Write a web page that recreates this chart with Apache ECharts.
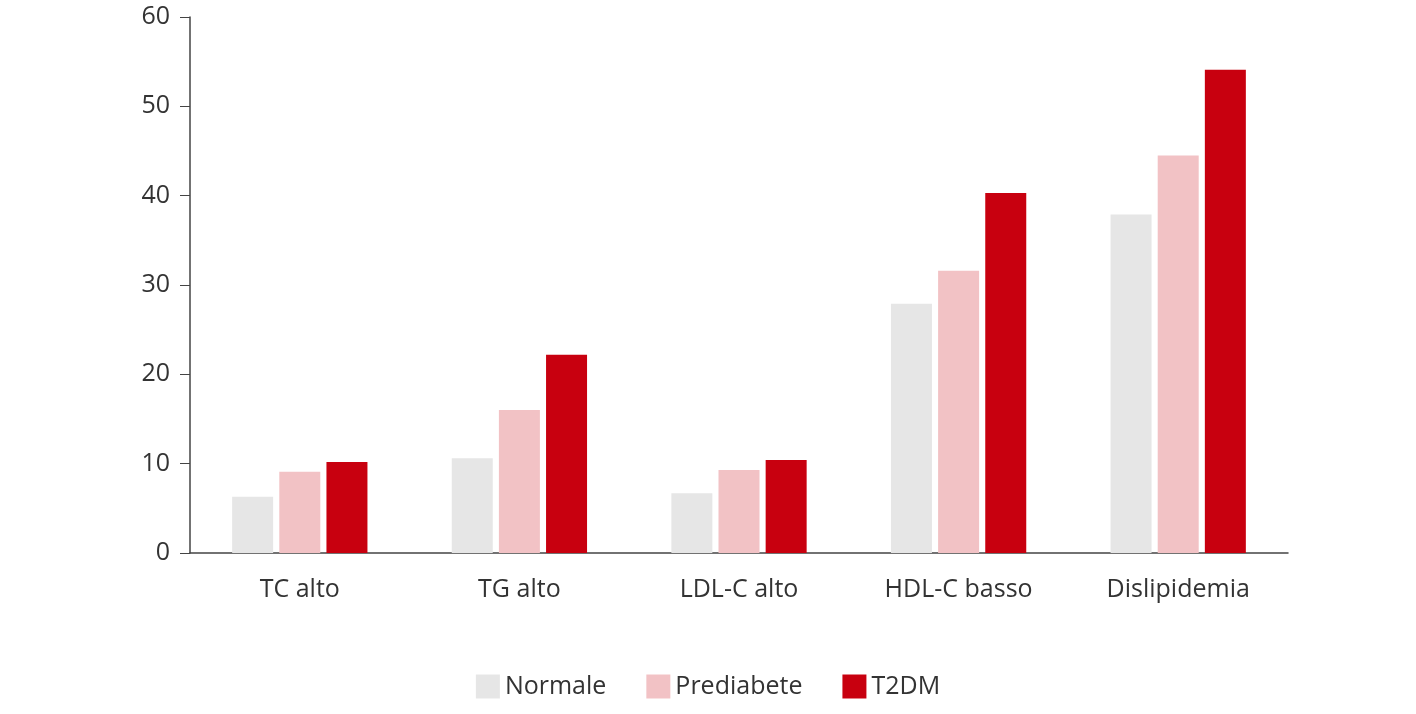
<!DOCTYPE html>
<html>
<head>
<meta charset="utf-8">
<script src="https://cdn.jsdelivr.net/npm/echarts@6/dist/echarts.min.js"></script>
<style>html,body{margin:0;padding:0;background:#fff}#chart{width:1416px;height:714px}</style>
</head>
<body>
<div id="chart"></div>
<script>
const categories = ['TC alto', 'TG alto', 'LDL-C alto', 'HDL-C basso', 'Dislipidemia'];
const normale = [6.3, 10.6, 6.7, 27.9, 37.9];
const prediabete = [9.1, 16.0, 9.3, 31.6, 44.5];
const t2dm = [10.2, 22.2, 10.4, 40.3, 54.1];

const font = '"Open Sans", "Noto Sans", sans-serif';
const chart = echarts.init(document.getElementById('chart'));
chart.setOption({
    animation: false,
    textStyle: { fontFamily: font },
    grid: { left: 190, right: 128, top: 17, bottom: 161 },
    legend: {
        bottom: 10,
        left: 'center',
        itemWidth: 24,
        itemHeight: 24,
        itemGap: 40,
        icon: 'rect',
        textStyle: { fontSize: 25, color: '#333', fontFamily: font },
        data: ['Normale', 'Prediabete', 'T2DM']
    },
    xAxis: {
        type: 'category',
        data: categories,
        axisTick: { show: false },
        axisLine: { lineStyle: { color: '#444', width: 1.5 } },
        axisLabel: { fontSize: 25, color: '#333', margin: 24 }
    },
    yAxis: {
        type: 'value',
        min: 0,
        max: 60,
        interval: 10,
        splitLine: { show: false },
        axisLine: { show: true, lineStyle: { color: '#444', width: 1.5 } },
        axisTick: { show: true, length: 10, lineStyle: { color: '#444' } },
        axisLabel: { fontSize: 25, color: '#333', margin: 20 }
    },
    series: [
        { name: 'Normale', type: 'bar', data: normale, barWidth: 41, barGap: '15%', itemStyle: { color: '#e6e6e6' } },
        { name: 'Prediabete', type: 'bar', data: prediabete, barWidth: 41, barGap: '15%', itemStyle: { color: '#f2c2c5' } },
        { name: 'T2DM', type: 'bar', data: t2dm, barWidth: 41, barGap: '15%', itemStyle: { color: '#c8000f' } }
    ]
});
</script>
</body>
</html>
